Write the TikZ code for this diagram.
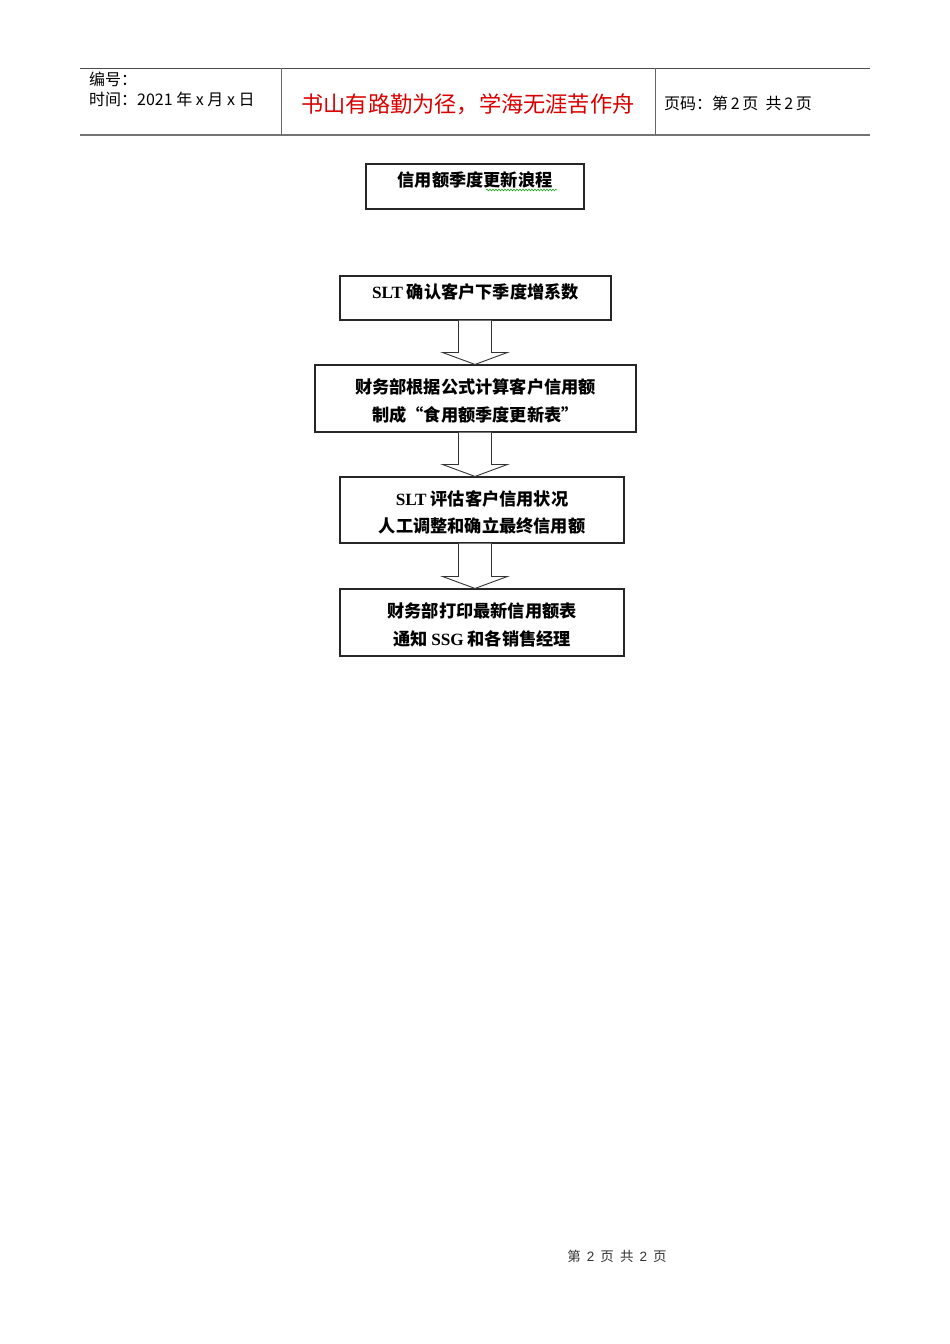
\documentclass[tikz,border=0pt]{standalone}
\usepackage{fontspec}
\setmainfont{Liberation Sans}
\newfontfamily\cjk{Noto Sans CJK SC}
\newfontfamily\tms{Liberation Serif}
\usetikzlibrary{calc,decorations.pathmorphing}
\newcommand{\twolines}[2]{\raisebox{-3.5pt}[\height][\depth]{\begin{tabular}{@{}c@{}}#1\\#2\end{tabular}}}
\newcommand{\upby}[2]{\raisebox{#1}[\height][\depth]{#2}}
\tikzset{
  stepbox/.style={draw=black!85,line width=1.1pt,inner sep=0pt,align=center,
    font=\cjk\bfseries\fontsize{17.2}{27.5}\selectfont},
  hollow/.style={draw=black!80,line width=0.9pt,fill=white,line join=miter},
  hdr/.style={inner sep=0pt,anchor=west,font=\cjk\fontsize{16}{20}\selectfont},
}
\begin{document}
\begin{tikzpicture}[x=1pt,y=-1pt]
\useasboundingbox[fill=white] (0,0) rectangle (950,1344);
% header
\coordinate (hl) at (80,68);
\coordinate (hr) at (870,68);
\coordinate (bl) at (80,135);
\coordinate (br) at (870,135);
\draw[black!70,line width=1pt] (hl) -- (hr);
\draw[black!55,line width=2pt] (bl) -- (br);
\coordinate (v1t) at (281,68); \coordinate (v1b) at (281,135);
\coordinate (v2t) at (655,68); \coordinate (v2b) at (655,135);
\draw[black!60,line width=0.8pt] (v1t) -- (v1b) (v2t) -- (v2b);
\node[hdr] (h1) at (89,79) {编号：};
\node[hdr] (h2) at (89,99) {时间：2021\ 年\ x\ 月\ x\ 日};
\node[inner sep=0pt,text=red!85!black,font=\cjk\fontsize{22.2}{24}\selectfont] (h3) at (468,104) {书山有路勤为径，学海无涯苦作舟};
\node[hdr] (h4) at (664,103) {页码：第\,2\,页\ \ 共\,2\,页};
% title
\node[draw=black!85,line width=1.1pt,minimum width=218pt,minimum height=45pt,inner sep=0pt,
  font=\cjk\bfseries\fontsize{17.2}{20}\selectfont] (t) at (475,186.5) {\upby{7pt}{信用额季度更新浪程}};
\coordinate (w1) at (486,190);
\coordinate (w2) at (557,190);
\draw[green!60!black,line width=0.5pt,decorate,decoration={snake,amplitude=0.9pt,segment length=3pt}] (w1) -- (w2);
% boxes
\node[stepbox,minimum width=271pt,minimum height=44pt] (b1) at (475.5,298) {\upby{6pt}{{\tms\bfseries SLT} 确认客户下季度增系数}};
\node[stepbox,minimum width=321pt,minimum height=67pt] (b2) at (475.5,398.5) {\twolines{财务部根据公式计算客户信用额}{制成“食用额季度更新表”}};
\node[stepbox,minimum width=284pt,minimum height=66pt] (b3) at (482,510) {\twolines{{\tms\bfseries SLT} 评估客户信用状况}{人工调整和确立最终信用额}};
\node[stepbox,minimum width=284pt,minimum height=67pt] (b4) at (482,622.5) {\twolines{财务部打印最新信用额表}{通知 {\tms\bfseries SSG} 和各销售经理}};
% hollow arrows
\coordinate (ax) at (475,0);
\foreach \a/\b in {b1/b2,b2/b3,b3/b4}{
  \draw[hollow] ($(ax |- \a.south)+(-16.5,0)$) -- ($(ax |- \b.north)+(-16.5,-12)$)
    -- ($(ax |- \b.north)+(-32.5,-12)$) -- (ax |- \b.north)
    -- ($(ax |- \b.north)+(32.5,-12)$) -- ($(ax |- \b.north)+(16.5,-12)$)
    -- ($(ax |- \a.south)+(16.5,0)$);
}
% footer
\node[inner sep=0pt,font=\cjk\fontsize{13.5}{16}\selectfont,text=black!80] (f) at (617,1256) {第\ \ {\fontspec{Liberation Sans}2}\ \ 页\ \ 共\ \ {\fontspec{Liberation Sans}2}\ \ 页};
\end{tikzpicture}
\end{document}
